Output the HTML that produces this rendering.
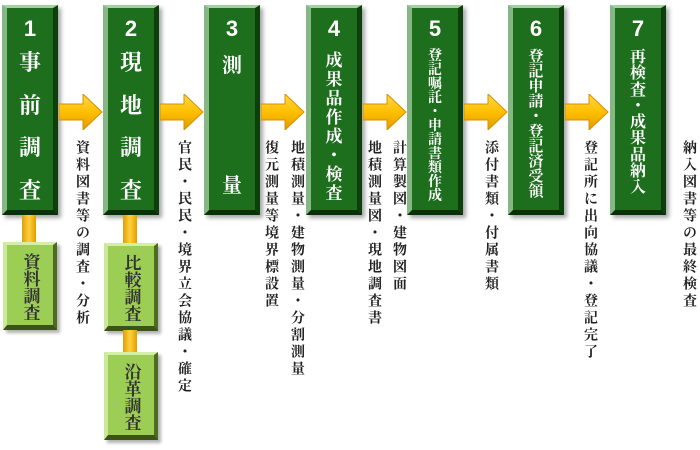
<!DOCTYPE html>
<html><head><meta charset="utf-8"><style>
body{margin:0;width:700px;height:450px;background:#fff;position:relative;overflow:hidden;font-family:"Liberation Serif","Noto Serif CJK JP","Noto Serif CJK SC",serif}
.b{position:absolute;top:5px;width:56px;height:210px;box-sizing:border-box;background:#1d6e1d;border-left:5px solid #86b886;border-top:3px solid #a6cfa6;border-right:5px solid #0c3f0c;border-bottom:5px solid #0a300a;box-shadow:3px 3px 4px rgba(0,0,0,.35);color:#fff;display:flex;flex-direction:column;align-items:center}
.n{font-family:"Liberation Sans",sans-serif;font-weight:bold;font-size:22px;margin-top:8px;line-height:26px}
.t{flex:1;display:flex;flex-direction:column;justify-content:space-between;align-items:center;font-weight:bold;margin:10px 0 8px}
.t span{display:block;line-height:1}
.s{position:absolute;width:54px;height:88px;box-sizing:border-box;background:#9ccd55;border-left:4px solid #cbe99a;border-top:3px solid #d4eea8;border-right:4px solid #4d6b22;border-bottom:5px solid #3b5319;box-shadow:3px 3px 3px rgba(0,0,0,.3);color:#333;font-weight:bold;font-size:17px;writing-mode:vertical-rl;display:flex;align-items:center;justify-content:center;line-height:1;padding-top:4px}
.c{position:absolute;width:14px;background:linear-gradient(90deg,#e0a000,#ffd040,#e0a000)}
.a{position:absolute;top:94px;width:44px;height:36px}
.v{position:absolute;top:140px;writing-mode:vertical-rl;font-size:14px;letter-spacing:3px;color:#222;font-weight:bold;line-height:1}
</style></head><body>

<div class="b" style="left:2px"><div class="n">1</div><div class="t" style="font-size:22px"><span>事</span><span>前</span><span>調</span><span>査</span></div></div>
<div class="b" style="left:103px"><div class="n">2</div><div class="t" style="font-size:22px"><span>現</span><span>地</span><span>調</span><span>査</span></div></div>
<div class="b" style="left:204px"><div class="n">3</div><div class="t" style="font-size:20px;margin-top:14px;margin-bottom:14px"><span>測</span><span>量</span></div></div>
<div class="b" style="left:306px"><div class="n">4</div><div class="t" style="font-size:17px"><span>成</span><span>果</span><span>品</span><span>作</span><span>成</span><span>・</span><span>検</span><span>査</span></div></div>
<div class="b" style="left:407px"><div class="n">5</div><div class="t" style="font-size:14px;margin-top:8px"><span>登</span><span>記</span><span>嘱</span><span>託</span><span>・</span><span>申</span><span>請</span><span>書</span><span>類</span><span>作</span><span>成</span></div></div>
<div class="b" style="left:508px"><div class="n">6</div><div class="t" style="font-size:15px;margin-top:8px;margin-bottom:14px"><span>登</span><span>記</span><span>申</span><span>請</span><span>・</span><span>登</span><span>記</span><span>済</span><span>受</span><span>領</span></div></div>
<div class="b" style="left:610px"><div class="n">7</div><div class="t" style="font-size:16px;margin-top:8px;margin-bottom:14px"><span>再</span><span>検</span><span>査</span><span>・</span><span>成</span><span>果</span><span>品</span><span>納</span><span>入</span></div></div>

<div class="c" style="left:22px;top:215px;height:28px"></div>
<div class="s" style="left:3px;top:242px">資料調査</div>
<div class="c" style="left:123px;top:215px;height:28px"></div>
<div class="s" style="left:104px;top:243px">比較調査</div>
<div class="c" style="left:123px;top:330px;height:23px"></div>
<div class="s" style="left:104px;top:352px">沿革調査</div>

<svg width="0" height="0" style="position:absolute"><defs><linearGradient id="g" x1="0" y1="0" x2="0" y2="1"><stop offset="0" stop-color="#ffd84a"/><stop offset=".5" stop-color="#ffbf00"/><stop offset="1" stop-color="#e09a00"/></linearGradient></defs></svg>
<svg class="a" style="left:59px" viewBox="0 0 44 36"><path d="M0 10H24V0L43 18L24 36V26H0Z" fill="url(#g)" stroke="#d89000" stroke-width="1"/></svg>
<svg class="a" style="left:160px" viewBox="0 0 44 36"><path d="M0 10H24V0L43 18L24 36V26H0Z" fill="url(#g)" stroke="#d89000" stroke-width="1"/></svg>
<svg class="a" style="left:261px" viewBox="0 0 44 36"><path d="M0 10H24V0L43 18L24 36V26H0Z" fill="url(#g)" stroke="#d89000" stroke-width="1"/></svg>
<svg class="a" style="left:363px" viewBox="0 0 44 36"><path d="M0 10H24V0L43 18L24 36V26H0Z" fill="url(#g)" stroke="#d89000" stroke-width="1"/></svg>
<svg class="a" style="left:464px" viewBox="0 0 44 36"><path d="M0 10H24V0L43 18L24 36V26H0Z" fill="url(#g)" stroke="#d89000" stroke-width="1"/></svg>
<svg class="a" style="left:565px" viewBox="0 0 44 36"><path d="M0 10H24V0L43 18L24 36V26H0Z" fill="url(#g)" stroke="#d89000" stroke-width="1"/></svg>

<div class="v" style="left:74px">資料図書等の調査・分析</div>
<div class="v" style="left:176px">官民・民民・境界立会協議・確定</div>
<div class="v" style="left:263px">復元測量等境界標設置</div>
<div class="v" style="left:289px">地積測量・建物測量・分割測量</div>
<div class="v" style="left:366px">地積測量図・現地調査書</div>
<div class="v" style="left:391px">計算製図・建物図面</div>
<div class="v" style="left:483px">添付書類・付属書類</div>
<div class="v" style="left:582px">登記所に出向協議・登記完了</div>
<div class="v" style="left:681px">納入図書等の最終検査</div>
</body></html>
